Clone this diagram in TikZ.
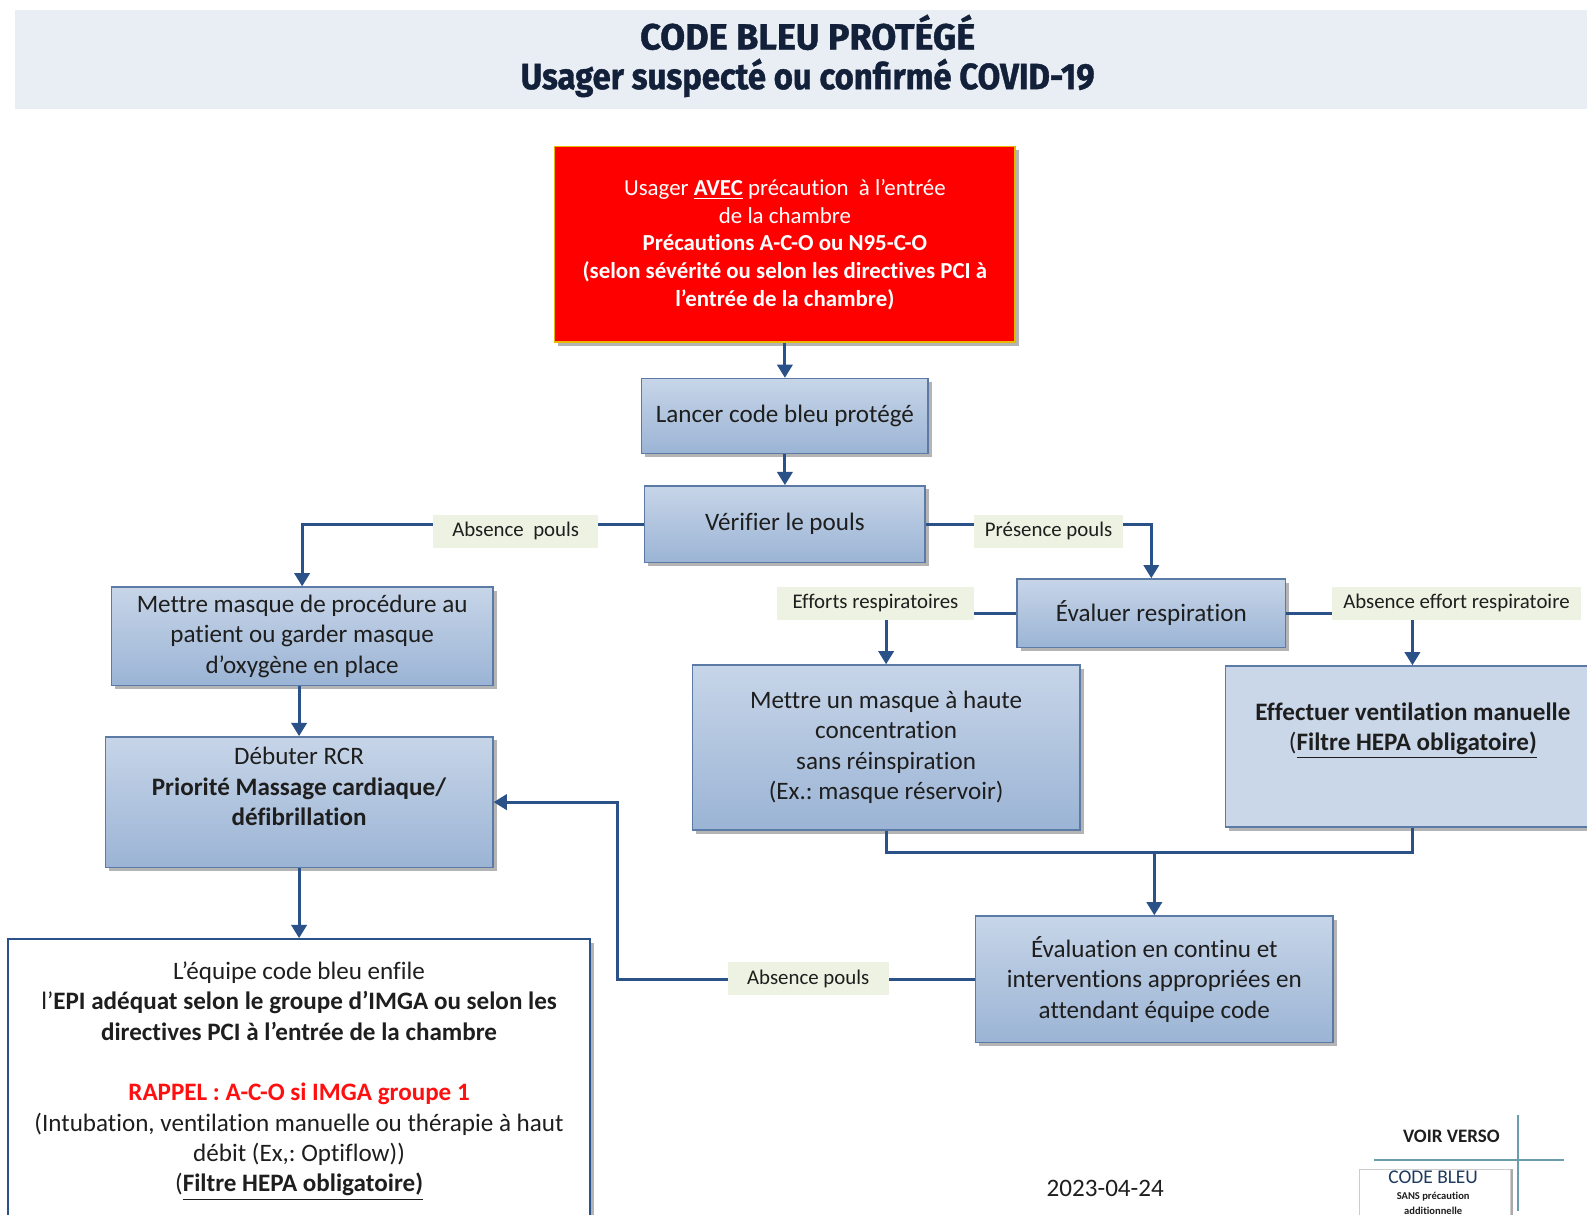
\documentclass[tikz,border=0pt]{standalone}
\usepackage{fontspec}
\setmainfont{Carlito}[Ligatures=NoCommon]
\newfontfamily\titlefont{Fira Sans}[BoldFeatures={FakeBold=1.2}]
\usetikzlibrary{arrows.meta,shadows,calc}
\definecolor{titlebg}{HTML}{E9EEF5}
\definecolor{titletext}{HTML}{13203A}
\definecolor{boxtop}{HTML}{C7D5E8}
\definecolor{boxbot}{HTML}{9BB4D5}
\definecolor{boxborder}{HTML}{5B7BA6}
\definecolor{conncol}{HTML}{2B5189}
\definecolor{labfill}{HTML}{EEF2E2}
\definecolor{textc}{HTML}{1E1E1E}
\definecolor{effill}{HTML}{CAD7E9}
\definecolor{redborder}{HTML}{E8B800}
\definecolor{rappel}{HTML}{FF1010}
\definecolor{tealline}{HTML}{6C9DAC}
\definecolor{cbtext}{HTML}{1F3A60}
\frenchspacing
\begin{document}
\begin{tikzpicture}[x=0.5pt,y=-0.5pt,
  wh/.style 2 args={minimum width=#1*0.5pt, minimum height=#2*0.5pt},
  shad/.style={drop shadow={shadow xshift=1.8pt,shadow yshift=-1.8pt,opacity=0.45,fill=black!65}},
  box/.style={draw=boxborder, line width=0.7pt, top color=boxtop, bottom color=boxbot, shad,
    text=textc, align=center, font=\fontsize{12.4}{15}\selectfont, inner sep=0pt},
  txt/.style={text=textc, align=center, font=\fontsize{12.4}{15}\selectfont, inner sep=0pt},
  conn/.style={draw=conncol, line width=1.5pt},
  arr/.style={conn, -{Triangle[width=7.5pt,length=6.5pt]}},
  lab/.style={fill=labfill, font=\fontsize{10.3}{12}\selectfont, text=textc, inner sep=0pt, minimum height=16.5pt}
]
\useasboundingbox (0,0) rectangle (1568,1200);

% title band
\node[fill=titlebg, inner sep=0pt, wh={1560}{98}] (band) at (795,59) {};
\node[text=titletext, inner sep=0pt] (t1) at (798,32)
  {\titlefont\bfseries\fontsize{18}{20}\selectfont\resizebox{165.5pt}{\height}{CODE BLEU PROTÉGÉ}};
\node[text=titletext, inner sep=0pt] (t2) at (798,77)
  {\titlefont\bfseries\fontsize{18}{20}\selectfont\resizebox{283.5pt}{\height}{Usager suspecté ou confirmé COVID-19}};

% red box
\node[draw=redborder, line width=0.7pt, fill=red, shad, text=white, align=center,
  font=\fontsize{11.3}{13.7}\selectfont, inner sep=0pt, wh={455}{193}] (red) at (775.5,241.5)
  {Usager \underline{\textbf{AVEC}} précaution\ \ à l’entrée\\
   de la chambre\\
   \textbf{Précautions A-C-O ou N95-C-O}\\
   \textbf{(selon sévérité ou selon les directives PCI à}\\
   \textbf{l’entrée de la chambre)}};

% blue boxes
\node[box, wh={283}{74}] (lancer) at (775.5,411) {Lancer code bleu protégé};
\node[box, wh={277}{76}] (verif) at (775.5,518) {Vérifier le pouls};
\node[box, wh={377}{97}] (masque1) at (298.5,628.5)
  {Mettre masque de procédure au\\patient ou garder masque\\d’oxygène en place};
\node[box, wh={383}{129}] (debuter) at (295.5,792.5) {};
\node[txt] (debutertxt) at (295.5,777)
  {Débuter RCR\\\textbf{Priorité Massage cardiaque/}\\\textbf{défibrillation}};
\node[draw=conncol, line width=1.1pt, fill=white, shad, wh={575}{278}, inner sep=0pt] (epi) at (295.5,1067) {};
\node[txt] (epitxt) at (295.5,1068)
  {L’équipe code bleu enfile\\
   l’\textbf{EPI adéquat selon le groupe d’IMGA ou selon les}\\
   \textbf{directives PCI à l’entrée de la chambre}\\[15pt]
   \textcolor{rappel}{\textbf{RAPPEL : A-C-O si IMGA groupe 1}}\\
   (Intubation, ventilation manuelle ou thérapie à haut\\
   débit (Ex,: Optiflow))\\
   (\underline{\textbf{Filtre HEPA obligatoire)}}};
\node[box, wh={265}{68}] (evalresp) at (1137.5,606) {Évaluer respiration};
\node[box, wh={383}{163}] (hmask) at (875.5,738.5)
  {Mettre un masque à haute\\concentration\\sans réinspiration\\(Ex.: masque réservoir)};
\node[draw=boxborder, line width=0.7pt, fill=effill, shad,
  inner sep=0pt, wh={369}{159}] (effect) at (1395.5,737.5) {};
\node[txt] (effecttxt) at (1396,722)
  {\textbf{Effectuer ventilation manuelle}\\(\underline{\textbf{Filtre HEPA obligatoire)}}};
\node[box, wh={353}{125}] (evalcont) at (1140.5,967.5)
  {Évaluation en continu et\\interventions appropriées en\\attendant équipe code};

% connectors
\draw[arr] (red.south) -- (lancer.north);
\draw[arr] (lancer.south) -- (verif.north);
\draw[arr] (verif.west) -| (masque1.north);
\draw[arr] (verif.east) -| (evalresp.north);
\draw[arr] (masque1.south -| debuter.north) -- (debuter.north);
\draw[arr] (debuter.south) -- (epi.north);
\draw[arr] (evalresp.west) -| (hmask.north);
\draw[arr] (evalresp.east) -| (effect.north);
\coordinate (mid) at (1140.5,842);
\draw[conn] (hmask.south) |- (mid) -| (effect.south);
\draw[arr] (mid) -- (evalcont.north);
\draw[arr] (evalcont.west) -- ++(-353,0) |- (debuter.east);

% labels
\node[lab, minimum width=81.5pt] (l1) at (509.5,525) {Absence\ \ pouls};
\node[lab, minimum width=74pt] (l2) at (1036,525) {Présence pouls};
\node[lab, minimum width=97pt] (l3) at (865,596) {Efforts respiratoires};
\node[lab, minimum width=123pt] (l4) at (1439,596) {Absence effort respiratoire};
\node[lab, minimum width=79.5pt] (l5) at (798.5,967) {Absence pouls};

% bottom right
\node[font=\fontsize{9.4}{11}\selectfont\bfseries, text=textc, inner sep=0pt] (verso) at (1434,1123) {VOIR VERSO};
\draw[tealline, line width=1pt] (1358,1146) -- (1545,1146);
\draw[tealline, line width=1pt] (1500,1102) -- (1500,1196);
\node[draw=black!20, line width=0.5pt, fill=white, inner sep=0pt, wh={149}{62},
  drop shadow={shadow xshift=1.5pt,shadow yshift=0pt,opacity=0.6,fill=black!55}] (cbox) at (1417.5,1186) {};
\node[text=cbtext, font=\fontsize{9.6}{11}\selectfont, inner sep=0pt] (cb1) at (1416,1163) {CODE BLEU};
\node[text=textc, font=\fontsize{5.2}{6}\selectfont\bfseries, inner sep=0pt] (cb2) at (1416,1182) {SANS précaution};
\node[text=textc, font=\fontsize{5.2}{6}\selectfont\bfseries, inner sep=0pt] (cb3) at (1416,1196) {additionnelle};

\node[txt] (date) at (1092,1174) {2023-04-24};
\end{tikzpicture}
\end{document}
